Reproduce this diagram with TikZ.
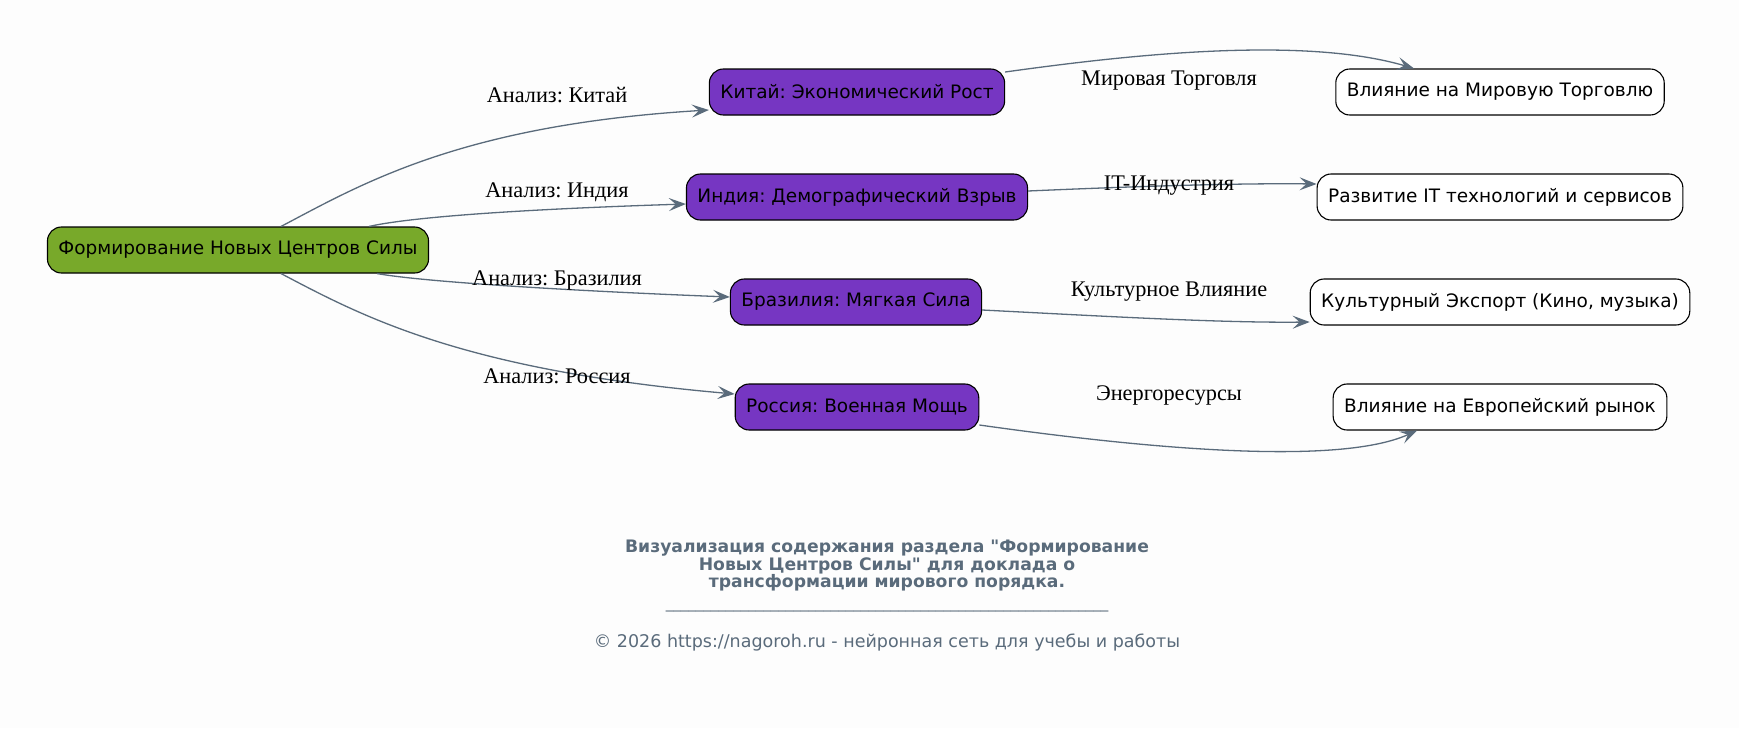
\documentclass[tikz,border=0pt]{standalone}
\usepackage{fontspec}
\setmainfont{DejaVu Sans}
\newfontfamily\edgefont{Liberation Serif}
\usetikzlibrary{arrows.meta}
\definecolor{rootgreen}{HTML}{78A92A}
\definecolor{topicpurple}{HTML}{7636C2}
\definecolor{slategray}{HTML}{5A6B7B}
\definecolor{paper}{HTML}{FDFDFD}
\newcommand{\tenbars}{\_\_\_\_\_\_\_\_\_\_}
\frenchspacing

\begin{document}
\begin{tikzpicture}[x=1pt,y=-1pt,
  box/.style={draw=black, line width=1.1pt, rounded corners=14pt, minimum height=46pt, inner xsep=11pt, font=\fontsize{18.5}{22}\selectfont},
  rootbox/.style={box, fill=rootgreen},
  topicbox/.style={box, fill=topicpurple},
  effectbox/.style={box, fill=white},
  link/.style={draw=slategray, line width=1.3pt, -{Stealth[length=17pt,width=13pt,inset=7pt]}},
  linklabel/.style={font=\edgefont\fontsize{22.3}{25}\selectfont},
  caption/.style={text=slategray, font=\fontsize{17.2}{17.5}\selectfont\bfseries, align=center},
  footer/.style={text=slategray, font=\fontsize{17.5}{20}\selectfont}]
\fill[paper] (0,0) rectangle (1739,728);
\useasboundingbox (0,0) rectangle (1739,728);

% centre and its four topics
\node[rootbox] (root) at (238,250) {Формирование Новых Центров Силы};
\node[topicbox] (china) at (857,92) {Китай: Экономический Рост};
\node[topicbox] (india) at (857,197) {Индия: Демографический Взрыв};
\node[topicbox] (brazil) at (856,302) {Бразилия: Мягкая Сила};
\node[topicbox] (russia) at (857,407) {Россия: Военная Мощь};

% effects
\node[effectbox] (trade) at (1500,92) {Влияние на Мировую Торговлю};
\node[effectbox] (tech) at (1500,197) {Развитие IT технологий и сервисов};
\node[effectbox] (culture) at (1500,302) {Культурный Экспорт (Кино, музыка)};
\node[effectbox] (europe) at (1500,407) {Влияние на Европейский рынок};

\draw[link] ([xshift=43pt]root.north) .. controls (360,185) and (460,125) .. ([yshift=-18pt]china.west);
\draw[link] ([xshift=131pt]root.north) .. controls (420,215) and (560,208) .. ([yshift=-7pt]india.west);
\draw[link] ([xshift=139pt]root.south) .. controls (430,283) and (600,292) .. ([yshift=5pt]brazil.west);
\draw[link] ([xshift=43pt]root.south) .. controls (360,315) and (460,370) .. ([yshift=13pt]russia.west);

\draw[link] ([yshift=20pt]china.east) .. controls (1120,56) and (1300,35) .. ([xshift=-86pt]trade.north);
\draw[link] ([yshift=6pt]india.east) .. controls (1120,187) and (1230,183) .. ([yshift=13pt]tech.west);
\draw[link] ([yshift=-8pt]brazil.east) .. controls (1100,316) and (1220,323) .. ([yshift=-20pt]culture.west);
\draw[link] ([yshift=-18pt]russia.east) .. controls (1100,442) and (1330,470) .. ([xshift=-83pt]europe.south);

\node[linklabel] (lchina) at (557,95) {Анализ: Китай};
\node[linklabel] (lindia) at (557,192) {Анализ: Индия};
\node[linklabel] (lbrazil) at (557,281) {Анализ: Бразилия};
\node[linklabel] (lrussia) at (557,376) {Анализ: Россия};
\node[linklabel] (ltrade) at (1169,81) {Мировая Торговля};
\node[linklabel] (ltech) at (1169,186) {IT-Индустрия};
\node[linklabel] (lculture) at (1169,292) {Культурное Влияние};
\node[linklabel] (leurope) at (1169,396) {Энергоресурсы};

% caption
\node[caption] (title) at (887,566) {Визуализация содержания раздела \textquotedbl Формирование\\Новых Центров Силы\textquotedbl{} для доклада о\\трансформации мирового порядка.};
\node[footer, font=\fontsize{15}{17}\selectfont] (bar) at (887,610) {\tenbars\tenbars\tenbars\tenbars\tenbars\_\_\_\_\_\_\_\_\_};
\node[footer] (copy) at (887,643) {© 2026 https://nagoroh.ru - нейронная сеть для учебы и работы};
\end{tikzpicture}
\end{document}
